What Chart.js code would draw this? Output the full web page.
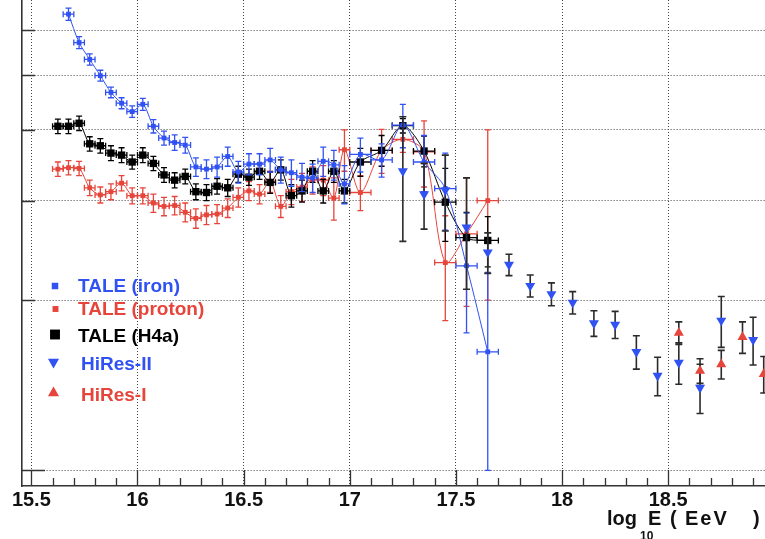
<!DOCTYPE html>
<html>
<head>
<meta charset="utf-8">
<script src="https://cdn.jsdelivr.net/npm/chart.js@4"></script>
<style>
  html, body { margin: 0; padding: 0; background: #ffffff; overflow: hidden; }
  #wrap { position: relative; width: 765px; height: 539px; }
</style>
</head>
<body>
<div id="wrap"><canvas id="spectrum" width="765" height="539"></canvas></div>
<script>
// Energy bins (log10 E) of the TALE spectra
const taleX = [15.625, 15.675, 15.725, 15.775, 15.825, 15.875, 15.925, 15.975, 16.025, 16.075,
               16.125, 16.175, 16.225, 16.275, 16.325, 16.375, 16.425, 16.475, 16.525, 16.575,
               16.625, 16.675, 16.725, 16.775, 16.825, 16.875, 16.925, 16.975,
               17.05, 17.15, 17.25, 17.35, 17.45, 17.55, 17.65];
const taleXErr = [0.025, 0.025, 0.025, 0.025, 0.025, 0.025, 0.025, 0.025, 0.025, 0.025,
                  0.025, 0.025, 0.025, 0.025, 0.025, 0.025, 0.025, 0.025, 0.025, 0.025,
                  0.025, 0.025, 0.025, 0.025, 0.025, 0.025, 0.025, 0.025,
                  0.05, 0.05, 0.05, 0.05, 0.05, 0.05, 0.05];

// TALE (H4a)
const h4aFlux = [4.06, 4.06, 4.11, 3.78, 3.75, 3.64, 3.61, 3.51, 3.61, 3.49,
                 3.33, 3.26, 3.31, 3.11, 3.10, 3.18, 3.16, 3.34, 3.30, 3.38,
                 3.23, 3.40, 3.06, 3.12, 3.38, 3.12, 3.38, 3.12,
                 3.51, 3.68, 4.07, 3.67, 2.98, 2.58, 2.55];
const h4aErr = [0.12, 0.12, 0.12, 0.11, 0.11, 0.11, 0.11, 0.10, 0.11, 0.10,
                0.10, 0.10, 0.10, 0.10, 0.10, 0.10, 0.11, 0.11, 0.11, 0.11,
                0.14, 0.14, 0.14, 0.14, 0.15, 0.15, 0.15, 0.15,
                0.20, 0.23, 0.12, 0.23, 0.44, 0.28, 0.26];

// TALE (proton)
const protonFlux = [3.41, 3.43, 3.42, 3.16, 3.07, 3.11, 3.22, 3.06, 3.06, 2.97,
                    2.93, 2.94, 2.86, 2.79, 2.83, 2.84, 2.91, 3.04, 3.12, 3.08,
                    3.24, 2.93, 3.11, 3.17, 3.26, 3.26, 3.03, 3.69,
                    3.10, 3.68, 3.85, 3.66, 2.33, 2.62, 3.00];
const protonErr = [0.10, 0.10, 0.10, 0.10, 0.10, 0.10, 0.10, 0.10, 0.10, 0.11,
                   0.11, 0.11, 0.11, 0.11, 0.11, 0.11, 0.11, 0.12, 0.12, 0.12,
                   0.14, 0.13, 0.16, 0.18, 0.18, 0.20, 0.26, 0.31,
                   0.22, 0.33, 0.20, 0.49, 0.49, 0.67, 1.00];

// TALE (iron) starts one bin later
const ironX = [15.675, 15.725, 15.775, 15.825, 15.875, 15.925, 15.975, 16.025, 16.075,
               16.125, 16.175, 16.225, 16.275, 16.325, 16.375, 16.425, 16.475, 16.525, 16.575,
               16.625, 16.675, 16.725, 16.775, 16.825, 16.875, 16.925, 16.975,
               17.05, 17.15, 17.25, 17.35, 17.45, 17.55, 17.65];
const ironXErr = [0.025, 0.025, 0.025, 0.025, 0.025, 0.025, 0.025, 0.025, 0.025,
                  0.025, 0.025, 0.025, 0.025, 0.025, 0.025, 0.025, 0.025, 0.025, 0.025,
                  0.025, 0.025, 0.025, 0.025, 0.025, 0.025, 0.025, 0.025,
                  0.05, 0.05, 0.05, 0.05, 0.05, 0.05, 0.05];
const ironFlux = [6.41, 5.71, 5.33, 4.99, 4.66, 4.46, 4.31, 4.44, 4.06,
                  3.87, 3.80, 3.76, 3.44, 3.41, 3.44, 3.59, 3.37, 3.48, 3.48,
                  3.54, 3.40, 3.36, 3.30, 3.29, 3.52, 3.47, 3.21,
                  3.62, 3.54, 4.08, 3.51, 3.15, 2.30, 1.62];
const ironErr = [0.16, 0.14, 0.12, 0.11, 0.10, 0.10, 0.10, 0.11, 0.11,
                 0.11, 0.12, 0.12, 0.13, 0.13, 0.14, 0.14, 0.15, 0.15, 0.15,
                 0.17, 0.18, 0.18, 0.19, 0.19, 0.21, 0.21, 0.25,
                 0.25, 0.24, 0.36, 0.40, 0.49, 0.55, 0.62];

// HiRes-II
const hires2X = [17.25, 17.35, 17.45, 17.55, 17.65, 17.75, 17.85, 17.95, 18.05,
                 18.15, 18.25, 18.35, 18.45, 18.55, 18.65, 18.75, 18.90];
const hires2Flux = [3.38, 3.08, 3.13, 2.69, 2.43, 2.31, 2.12, 2.05, 1.98,
                    1.82, 1.81, 1.62, 1.47, 1.55, 1.40, 1.84, 1.70];
const hires2Err = [0.84, 0.41, 0.48, 0.60, 0.20, 0.10, 0.095, 0.095, 0.09,
                   0.095, 0.10, 0.11, 0.115, 0.13, 0.14, 0.19, 0.165];

// HiRes-I
const hires1X = [18.55, 18.65, 18.75, 18.85, 18.95];
const hires1Flux = [1.75, 1.50, 1.54, 1.72, 1.48];
const hires1Err = [0.08, 0.075, 0.09, 0.11, 0.11];

// Axis labelling
const xTickLabels = [15.5, 16, 16.5, 17, 17.5, 18, 18.5];
const yGridValues = [1, 2, 3, 4, 5, 6];

const BLUE = '#3152f3';
const RED = '#e6453b';
const BLACK = '#000000';
const BAR_GRAY = '#2b2b2b';
const GRID = '#444444';
const FONT = '"Liberation Sans", Arial, Helvetica, sans-serif';

const toPoints = (xs, ys) => xs.map((x, i) => ({ x: x, y: ys[i] }));

// Vertical (and optional horizontal) error bars with end caps, drawn under each dataset
const errorBarPlugin = {
  id: 'errorBars',
  beforeDatasetDraw(chart, args) {
    const ds = chart.data.datasets[args.index];
    if (!ds.yErr) return;
    const { ctx, chartArea: a, scales } = chart;
    const sx = scales.x, sy = scales.y;
    const cap = ds.capSize;
    ctx.save();
    ctx.beginPath();
    ctx.rect(a.left, a.top, a.right - a.left, a.bottom - a.top);
    ctx.clip();
    ctx.strokeStyle = ds.errColor;
    ctx.lineWidth = ds.errWidth;
    ds.data.forEach((p, i) => {
      const px = sx.getPixelForValue(p.x);
      const py = sy.getPixelForValue(p.y);
      const e = ds.yErr[i];
      const yTop = sy.getPixelForValue(p.y + e);
      const lo = p.y - e;
      const yBot = lo > 0 ? sy.getPixelForValue(lo) : a.bottom + 10;
      ctx.beginPath();
      ctx.moveTo(px, yTop); ctx.lineTo(px, yBot);
      ctx.moveTo(px - cap, yTop); ctx.lineTo(px + cap, yTop);
      ctx.moveTo(px - cap, yBot); ctx.lineTo(px + cap, yBot);
      if (ds.xErr) {
        const xl = sx.getPixelForValue(p.x - ds.xErr[i]);
        const xr = sx.getPixelForValue(p.x + ds.xErr[i]);
        ctx.moveTo(xl, py); ctx.lineTo(xr, py);
        ctx.moveTo(xl, py - cap); ctx.lineTo(xl, py + cap);
        ctx.moveTo(xr, py - cap); ctx.lineTo(xr, py + cap);
      }
      ctx.stroke();
    });
    ctx.restore();
  }
};

// Tick marks pointing into the frame, as in the original plotting style
const inwardTicksPlugin = {
  id: 'inwardTicks',
  afterDraw(chart) {
    const { ctx, chartArea: a, scales } = chart;
    const sx = scales.x, sy = scales.y;
    ctx.save();
    ctx.strokeStyle = '#333333';
    ctx.lineWidth = 1.3;
    ctx.beginPath();
    for (let t = 155; t <= 189; t++) {
      const v = t / 10;
      const px = Math.round(sx.getPixelForValue(v)) + 0.5;
      const len = (t % 5 === 0) ? 16 : 8;
      ctx.moveTo(px, a.bottom);
      ctx.lineTo(px, a.bottom - len);
    }
    yGridValues.forEach(v => {
      const py = Math.round(sy.getPixelForValue(v)) + 0.5;
      const len = (v === 1) ? 23 : 13;
      ctx.moveTo(a.left, py);
      ctx.lineTo(a.left + len, py);
    });
    ctx.stroke();
    ctx.restore();
  }
};

// Legend block inside the frame, text coloured per series
const legendPlugin = {
  id: 'innerLegend',
  afterDraw(chart) {
    const { ctx } = chart;
    const ds = chart.data.datasets;
    const byLabel = l => ds.find(d => d.label === l);
    const rows = [
      { label: 'TALE (iron)',   r: 4.6, mx: 55,   my: 286,   tx: 78, ty: 292 },
      { label: 'TALE (proton)', r: 4.2, mx: 55.5, my: 309,   tx: 78, ty: 315 },
      { label: 'TALE (H4a)',    r: 7,   mx: 55,   my: 334.5, tx: 78, ty: 342 },
      { label: 'HiRes-II',      r: 6.4, mx: 53.5, my: 362,   tx: 81, ty: 370 },
      { label: 'HiRes-I',       r: 6.4, mx: 53.5, my: 393,   tx: 81, ty: 400.5 }
    ];
    ctx.save();
    rows.forEach(row => {
      const d = byLabel(row.label);
      ctx.fillStyle = d.backgroundColor;
      Chart.helpers.drawPoint(ctx, {
        pointStyle: d.pointStyle, rotation: d.pointRotation || 0,
        radius: row.r, borderWidth: 0
      }, row.mx, row.my);
      ctx.fillStyle = d.legendTextColor;
      ctx.font = 'bold 19px ' + FONT;
      ctx.textAlign = 'left';
      ctx.textBaseline = 'alphabetic';
      ctx.fillText(row.label, row.tx, row.ty);
    });
    ctx.restore();
  }
};

// Axis title with subscript
const axisTitlePlugin = {
  id: 'axisTitle',
  afterDraw(chart) {
    const { ctx } = chart;
    ctx.save();
    ctx.fillStyle = '#111111';
    ctx.textAlign = 'left';
    ctx.textBaseline = 'alphabetic';
    ctx.font = 'bold 20px ' + FONT;
    ctx.fillText('log', 607, 525);
    ctx.font = 'bold 12px ' + FONT;
    ctx.fillText('10', 640, 540);
    ctx.font = 'bold 20px ' + FONT;
    ctx.fillText('E', 648, 525);
    ctx.fillText('(', 670, 525);
    ctx.letterSpacing = '2px';
    ctx.fillText('EeV', 685, 525);
    ctx.letterSpacing = '0px';
    ctx.fillText(')', 753, 525);
    ctx.restore();
  }
};

const taleStyle = (color, radius) => ({
  showLine: true,
  borderColor: color,
  backgroundColor: color,
  borderWidth: 1,
  tension: 0.3,
  pointStyle: 'rect',
  pointRadius: radius,
  pointBorderWidth: 0,
  errColor: color,
  errWidth: 1.3,
  capSize: 3
});

new Chart(document.getElementById('spectrum'), {
  type: 'scatter',
  data: {
    datasets: [
      {
        label: 'HiRes-I', legendTextColor: RED,
        data: toPoints(hires1X, hires1Flux), yErr: hires1Err,
        showLine: false, backgroundColor: RED, borderColor: RED,
        pointStyle: 'triangle', pointRotation: 0, pointRadius: 5.8, pointBorderWidth: 0,
        errColor: BAR_GRAY, errWidth: 1.6, capSize: 3.5
      },
      {
        label: 'HiRes-II', legendTextColor: BLUE,
        data: toPoints(hires2X, hires2Flux), yErr: hires2Err,
        showLine: false, backgroundColor: BLUE, borderColor: BLUE,
        pointStyle: 'triangle', pointRotation: 180, pointRadius: 5.8, pointBorderWidth: 0,
        errColor: BAR_GRAY, errWidth: 1.6, capSize: 3.5
      },
      Object.assign({
        label: 'TALE (iron)', legendTextColor: BLUE,
        data: toPoints(ironX, ironFlux), yErr: ironErr, xErr: ironXErr
      }, taleStyle(BLUE, 3.4)),
      Object.assign({
        label: 'TALE (H4a)', legendTextColor: BLACK,
        data: toPoints(taleX, h4aFlux), yErr: h4aErr, xErr: taleXErr
      }, taleStyle(BLACK, 5.2)),
      Object.assign({
        label: 'TALE (proton)', legendTextColor: RED,
        data: toPoints(taleX, protonFlux), yErr: protonErr, xErr: taleXErr
      }, taleStyle(RED, 3.4))
    ]
  },
  options: {
    responsive: false,
    animation: false,
    devicePixelRatio: 1,
    layout: { autoPadding: false, padding: { left: 22, right: 0, top: 0, bottom: 27 } },
    plugins: { legend: { display: false }, tooltip: { enabled: false } },
    scales: {
      x: {
        type: 'linear', min: 15.456, max: 18.956,
        afterBuildTicks: s => { s.ticks = xTickLabels.map(v => ({ value: v })); },
        afterFit: s => { s.height = 26; },
        grid: { color: GRID, lineWidth: 1, drawTicks: false },
        border: { display: true, color: '#333333', width: 1.6, dash: [1, 2] },
        ticks: {
          padding: 2, color: '#111111', maxRotation: 0, autoSkip: false,
          font: { family: FONT, size: 20, weight: 'bold' },
          callback: v => String(v)
        }
      },
      y: {
        type: 'logarithmic', min: 0.938, max: 6.79,
        afterBuildTicks: s => { s.ticks = yGridValues.map(v => ({ value: v })); },
        afterFit: s => { s.width = 0; },
        grid: { color: GRID, lineWidth: 1, drawTicks: false },
        border: { display: true, color: '#333333', width: 1.6, dash: [1, 2] },
        ticks: { display: false }
      }
    }
  },
  plugins: [errorBarPlugin, inwardTicksPlugin, legendPlugin, axisTitlePlugin]
});
</script>
</body>
</html>
